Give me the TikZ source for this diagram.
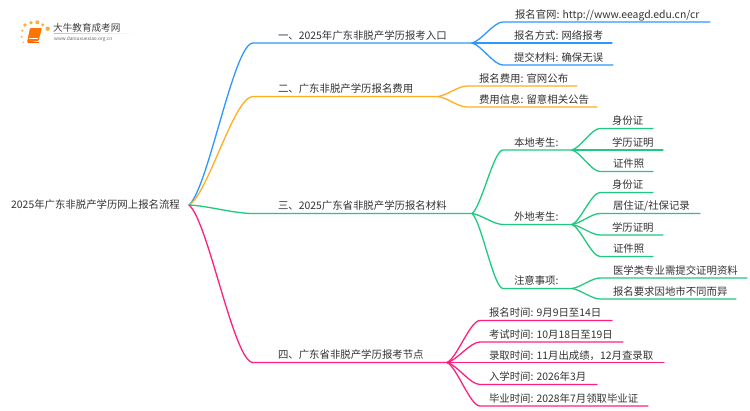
\documentclass[tikz,border=0pt]{standalone}
\usepackage{fontspec}
\setmainfont{Noto Sans CJK SC}
\usetikzlibrary{calc}
\definecolor{cblue}{HTML}{2E96FF}
\definecolor{corange}{HTML}{FFAE1F}
\definecolor{cgreen}{HTML}{1FC97F}
\definecolor{cpink}{HTML}{FF1F7E}
\definecolor{ctext}{HTML}{333333}
\definecolor{cdot}{HTML}{FFC24A}
\tikzset{
 lab/.style={anchor=south west,inner sep=0pt,outer sep=0pt,text=ctext,font=\fontsize{10.4}{12}\selectfont,text height=9pt,text depth=2pt},
 conn/.style={line width=1.3pt,line cap=round,line join=round},
}
% \lnk{from}{to}{end-of-underline}{colour}: S-curve then straight underline
\newcommand{\lnk}[4]{\draw[conn,draw=#4] let \p1=(#1),\p2=(#2) in (#1) .. controls ({\x1+.3*(\x2-\x1)},{\y1+.1*(\y2-\y1)}) and ({\x1+.7*(\x2-\x1)},\y2) .. (#2) -- (#3);}
\newcommand{\strk}[3]{\draw[conn,draw=#3] (#1) -- (#2);}
\begin{document}
\begin{tikzpicture}[x=1pt,y=-1pt]
\useasboundingbox (0,0) rectangle (750,410);
\fill[white] (0,0) rectangle (750,410);
% logo
\fill[cdot!70!orange] (25,25) circle (1.8) (31,22.7) circle (1.8) (37.3,22.3) circle (2) (42.7,24.7) circle (1.6) (47.7,28.7) circle (2.2) (22.3,30.7) circle (1.2) (21.7,36.7) circle (1) (23.3,42.3) circle (.8);
\fill[orange!90!red,rounded corners=1pt] (30,28) -- (42,28) -- (38.5,41) -- (27,42.5) -- cycle;
\draw[white,line width=.5pt] (29,38.5) -- (38,38.5);
\draw[orange!70!red,line width=1pt] (27.5,42) -- (38.5,42);
\node[anchor=west,inner sep=0pt,text=black!75,font=\fontsize{9.6}{11}\selectfont] (logoa) at (53,27.5) {大牛教育成考网};
\node[anchor=west,inner sep=0pt,text=black!60,font=\fontsize{4.8}{6}\selectfont] (logob) at (54,39) {www.daniuxuexiao.org.cn};
\shade[left color=black!25,right color=white] (54,33) rectangle (134,33.6);
% root
\node[anchor=west,inner sep=0pt,text=ctext,font=\fontsize{10.4}{12}\selectfont] (root) at (11,205) {2025年广东非脱产学历网上报名流程};
\coordinate (r) at (189,205);
% junctions & ends
\foreach \n/\x/\y in {
 b1s/253/43,b1e/472/43,b2s/253/96.5,b2e/438/96.5,b3s/253/213.5,b3e/472/213.5,b4s/253/362.5,b4e/447/362.5,
 a1s/503/22,a1e/710/22,a2e/612/43,a3s/503/65,a3e/613/65,
 c1s/467/86,c1e/577/86,c2s/467/107,c2e/597/107,
 d1s/503/150,d1e/572/150,d2s/503/224.5,d2e/572/224.5,d3s/503/288.5,d3e/572/288.5,
 e1s/600/128.5,e1e/653/128.5,e2e/663/150,e3s/600/171.5,e3e/653/171.5,
 f1s/600/192.5,f1e/653/192.5,f2s/600/213.5,f2e/700/213.5,f3s/600/235,f3e/663/235,f4s/600/256.5,f4e/653/256.5,
 g1s/600/278,g1e/747/278,g2s/600/299,g2e/736/299,
 h1s/480/320.5,h1e/612/320.5,h2s/480/342,h2e/623/342,h3e/664/362.5,h4s/480/384.5,h4e/597/384.5,h5s/480/406,h5e/648/406}
 {\coordinate (\n) at (\x,\y);}
% connectors
\lnk{r}{b1s}{b1e}{cblue}
\lnk{r}{b2s}{b2e}{corange}
\lnk{r}{b3s}{b3e}{cgreen}
\lnk{r}{b4s}{b4e}{cpink}
\lnk{b1e}{a1s}{a1e}{cblue}
\strk{b1e}{a2e}{cblue}
\lnk{b1e}{a3s}{a3e}{cblue}
\lnk{b2e}{c1s}{c1e}{corange}
\lnk{b2e}{c2s}{c2e}{corange}
\lnk{b3e}{d1s}{d1e}{cgreen}
\lnk{b3e}{d2s}{d2e}{cgreen}
\lnk{b3e}{d3s}{d3e}{cgreen}
\lnk{d1e}{e1s}{e1e}{cgreen}
\strk{d1e}{e2e}{cgreen}
\lnk{d1e}{e3s}{e3e}{cgreen}
\lnk{d2e}{f1s}{f1e}{cgreen}
\lnk{d2e}{f2s}{f2e}{cgreen}
\lnk{d2e}{f3s}{f3e}{cgreen}
\lnk{d2e}{f4s}{f4e}{cgreen}
\lnk{d3e}{g1s}{g1e}{cgreen}
\lnk{d3e}{g2s}{g2e}{cgreen}
\lnk{b4e}{h1s}{h1e}{cpink}
\lnk{b4e}{h2s}{h2e}{cpink}
\strk{b4e}{h3e}{cpink}
\lnk{b4e}{h4s}{h4e}{cpink}
\lnk{b4e}{h5s}{h5e}{cpink}
% labels
\node[lab] (t1) at (278,41) {一、2025年广东非脱产学历报考入口};
\node[lab] (t2) at (278,94.5) {二、广东非脱产学历报名费用};
\node[lab] (t3) at (278,211.5) {三、2025广东省非脱产学历报名材料};
\node[lab] (t4) at (278,360.5) {四、广东省非脱产学历报考节点};
\node[lab] (a1) at (515,20) {报名官网: http://www.eeagd.edu.cn/cr};
\node[lab] (a2) at (514,41) {报名方式: 网络报考};
\node[lab] (a3) at (514,63) {提交材料: 确保无误};
\node[lab] (c1) at (479,84) {报名费用: 官网公布};
\node[lab] (c2) at (479,105) {费用信息: 留意相关公告};
\node[lab] (d1) at (514,148) {本地考生:};
\node[lab] (d2) at (514,222.5) {外地考生:};
\node[lab] (d3) at (514,286.5) {注意事项:};
\node[lab] (e1) at (612,126.5) {身份证};
\node[lab] (e2) at (612,148) {学历证明};
\node[lab] (e3) at (613,169.5) {证件照};
\node[lab] (f1) at (612,190.5) {身份证};
\node[lab] (f2) at (613,211.5) {居住证/社保记录};
\node[lab] (f3) at (612,233) {学历证明};
\node[lab] (f4) at (613,254.5) {证件照};
\node[lab] (g1) at (613,276) {医学类专业需提交证明资料};
\node[lab] (g2) at (613,297) {报名要求因地市不同而异};
\node[lab] (h1) at (489,318.5) {报名时间: 9月9日至14日};
\node[lab] (h2) at (489,340) {考试时间: 10月18日至19日};
\node[lab] (h3) at (489,361) {录取时间: 11月出成绩，12月查录取};
\node[lab] (h4) at (489,382.5) {入学时间: 2026年3月};
\node[lab] (h5) at (489,404) {毕业时间: 2028年7月领取毕业证};
\end{tikzpicture}
\end{document}
